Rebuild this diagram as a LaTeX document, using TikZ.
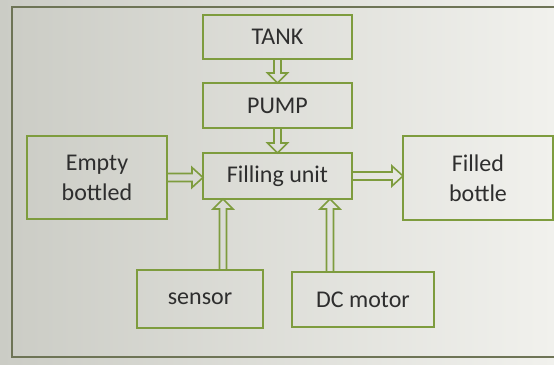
\documentclass[tikz,border=0pt]{standalone}
\usepackage{fontspec}
\setmainfont{Carlito}
\usetikzlibrary{calc}
\definecolor{boxgreen}{HTML}{7E9C3E}
\definecolor{txt}{HTML}{2E2E2E}
\definecolor{framec}{HTML}{6E7456}
\definecolor{bgl}{HTML}{CBCCC5}
\definecolor{bgm}{HTML}{FBFBF8}
\definecolor{bgr}{HTML}{F1F1ED}
\tikzset{
  blk/.style={draw=boxgreen, line width=2pt, rectangle, inner sep=0pt, outer sep=0pt,
    text=txt, font=\fontsize{24}{30}\selectfont, align=center},
  arr/.style={draw=boxgreen, line width=1.6pt, line join=miter},
}
% vertical block arrow from #1 to #2 (same x)
\newcommand\vblockarrow[2]{%
  \draw[arr] let \p1=(#1), \p2=(#2), \n1={sign(\y2-\y1)} in
    (\x1-3.5pt,\y1) -- (\x1-3.5pt,\y2-\n1*10pt) -- (\x1-10pt,\y2-\n1*10pt) -- (\x1,\y2)
    -- (\x1+10pt,\y2-\n1*10pt) -- (\x1+3.5pt,\y2-\n1*10pt) -- (\x1+3.5pt,\y1) -- cycle;}
% horizontal block arrow from #1 to #2 (same y)
\newcommand\hblockarrow[2]{%
  \draw[arr] let \p1=(#1), \p2=(#2), \n1={sign(\x2-\x1)} in
    (\x1,\y1-4pt) -- (\x2-\n1*11pt,\y1-4pt) -- (\x2-\n1*11pt,\y1-10pt) -- (\x2,\y1)
    -- (\x2-\n1*11pt,\y1+10pt) -- (\x2-\n1*11pt,\y1+4pt) -- (\x1,\y1+4pt) -- cycle;}
\begin{document}
\begin{tikzpicture}[x=1pt,y=-1pt]
\useasboundingbox (0,0) rectangle (554,364);
\shade[left color=bgl, middle color=bgm, right color=bgr] (0,0) rectangle (554,364);
\draw[framec, line width=1.5pt] (556,7) -- (12,7) -- (12,357) -- (556,357);

\node[blk, minimum width=149pt, minimum height=44pt] (tank) at (277.5,37) {TANK};
\node[blk, minimum width=149pt, minimum height=45pt] (pump) at (277.5,105.5) {PUMP};
\node[blk, minimum width=149pt, minimum height=46pt] (fill) at (277.5,176) {Filling unit};
\node[blk, minimum width=140pt, minimum height=83pt] (empty) at (97,177.5) {Empty\\bottled};
\node[blk, minimum width=150pt, minimum height=84pt] (filled) at (478,178) {Filled\\bottle};
\node[blk, minimum width=126pt, minimum height=58pt] (sensor) at (200,299) {sensor};
\node[blk, minimum width=142pt, minimum height=55pt] (motor) at (363,299.5) {DC motor};

\coordinate (sa) at ([xshift=23pt]sensor.north);
\coordinate (ma) at ([xshift=-33pt]motor.north);

\vblockarrow{tank.south}{pump.north}
\vblockarrow{pump.south}{fill.north}
\hblockarrow{empty.east}{empty.east -| fill.west}
\hblockarrow{fill.east}{fill.east -| filled.west}
\vblockarrow{sa}{sa |- fill.south}
\vblockarrow{ma}{ma |- fill.south}
\end{tikzpicture}
\end{document}
